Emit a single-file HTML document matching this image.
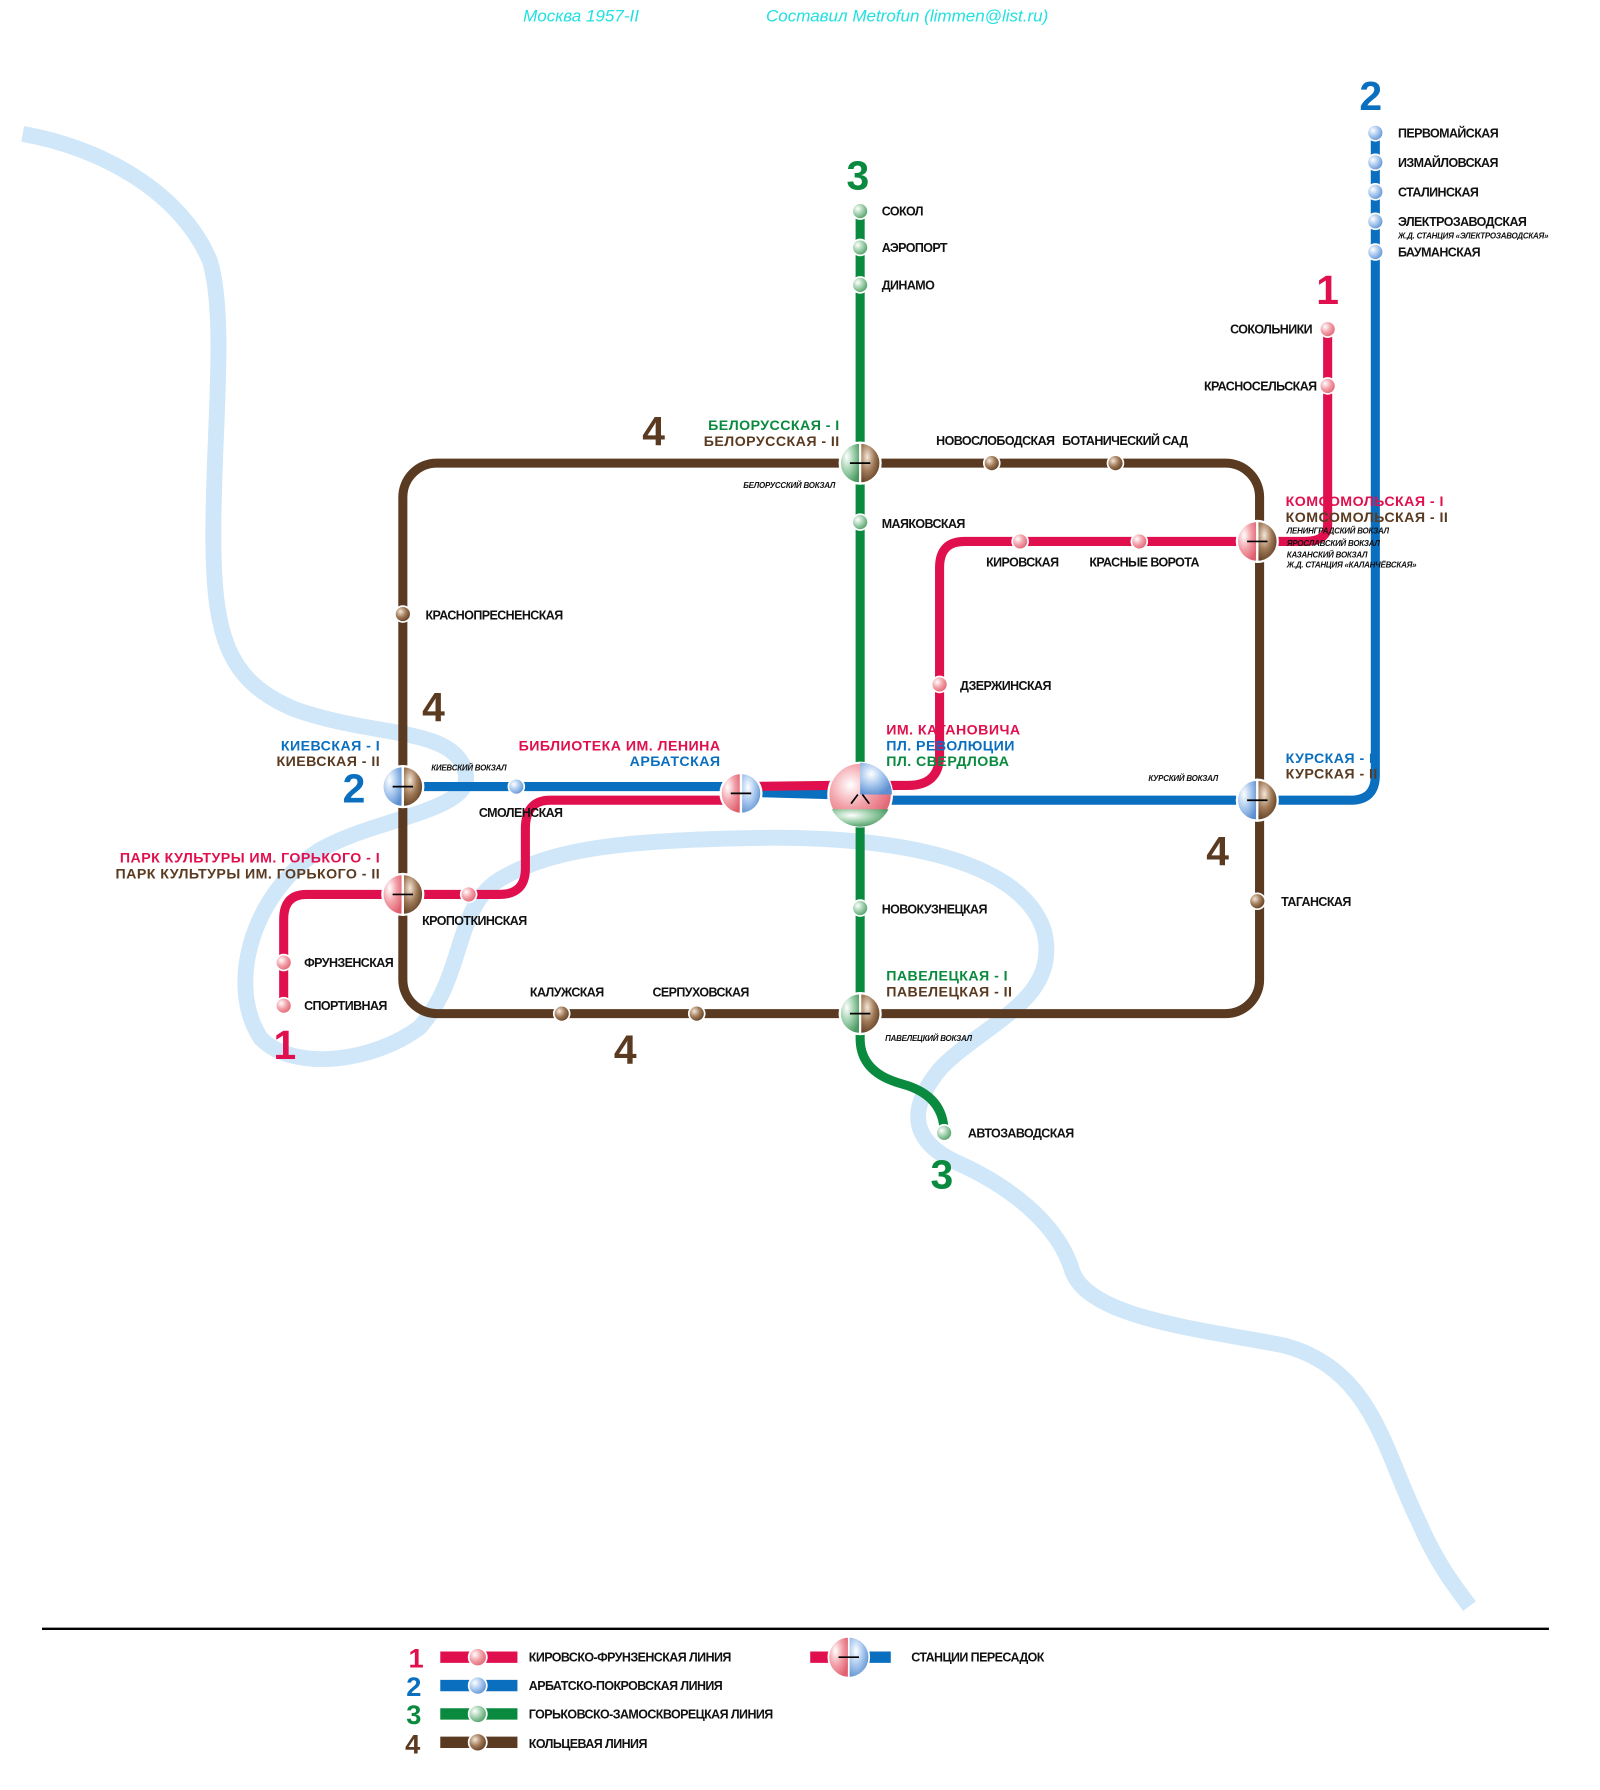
<!DOCTYPE html>
<html><head><meta charset="utf-8"><style>
html,body{margin:0;padding:0;background:#fff}
svg{display:block}
text{font-family:"Liberation Sans",sans-serif}
.s{font-size:11px;font-weight:bold;fill:#111;letter-spacing:-0.5px}
.i{font-size:7px;font-style:italic;font-weight:bold;fill:#111;letter-spacing:-0.2px}
.b{font-size:12.5px;font-weight:900;letter-spacing:0.4px}
.n{font-size:36px;font-weight:900}
</style></head><body>
<svg width="1600" height="1790" viewBox="0 0 1410 1577" preserveAspectRatio="none" xmlns="http://www.w3.org/2000/svg">
<defs>
<radialGradient id="gr" cx="35%" cy="35%" r="70%"><stop offset="0" stop-color="#fff"/><stop offset="0.5" stop-color="#f2a0a8"/><stop offset="1" stop-color="#e0606f"/></radialGradient>
<radialGradient id="gb" cx="35%" cy="35%" r="70%"><stop offset="0" stop-color="#fff"/><stop offset="0.5" stop-color="#a8c8ee"/><stop offset="1" stop-color="#5d8fd0"/></radialGradient>
<radialGradient id="gg" cx="35%" cy="35%" r="70%"><stop offset="0" stop-color="#fff"/><stop offset="0.5" stop-color="#9fd0ac"/><stop offset="1" stop-color="#4a9a62"/></radialGradient>
<radialGradient id="gn" cx="35%" cy="35%" r="70%"><stop offset="0" stop-color="#f4e6d8"/><stop offset="0.5" stop-color="#a07a58"/><stop offset="1" stop-color="#5a3a20"/></radialGradient>
</defs>
<text x="461" y="19" style="font-size:15px;fill:#22e0e0;font-style:italic">Москва 1957-II</text>
<text x="675" y="19" style="font-size:15px;fill:#22e0e0;font-style:italic">Составил Metrofun (limmen@list.ru)</text>

<!-- river -->
<path d="M20 118 C90 130 160 170 185 230 C200 280 188 380 188 470 C188 560 200 600 260 625 C330 650 400 640 410 680 C420 715 330 720 280 750 C220 790 200 870 230 915 C260 945 330 935 370 905 C410 860 400 800 440 775 C490 745 560 740 680 738 C800 738 900 760 920 820 C935 880 870 900 830 940 C800 975 800 1005 845 1025 C900 1050 935 1085 945 1120 C960 1160 1050 1170 1130 1185 C1210 1205 1220 1280 1250 1340 C1265 1375 1280 1395 1295 1415" fill="none" stroke="#cfe7f8" stroke-width="14" stroke-linejoin="round"/>

<!-- ring -->
<rect x="355" y="408" width="755" height="485" rx="30" fill="none" stroke="#5a3a20" stroke-width="8"/>
<!-- green -->
<path d="M758 185 L758 915 Q758 945 795 955 Q832 965 832 998" fill="none" stroke="#0a8a3e" stroke-width="8"/>
<!-- blue -->
<path d="M355 693 L640 693 L660 698 L730 700 M758 705 L1190 705 Q1212 705 1212 683 L1212 117" fill="none" stroke="#0b6fc0" stroke-width="8"/>
<!-- red -->
<path d="M1170 290 L1170 462 Q1170 477 1150 477 L850 477 Q828 477 828 500 L828 665 Q828 692 800 692 L730 692 M653 693 L730 692 M653 705 L485 705 Q463 705 463 730 L463 765 Q463 788 440 788 L270 788 Q250 788 250 810 L250 888" fill="none" stroke="#e0104e" stroke-width="8"/>

<!-- small stations -->
<g stroke="#fff" stroke-width="1.5">
<circle cx="758" cy="186" r="7" fill="url(#gg)"/><circle cx="758" cy="218" r="7" fill="url(#gg)"/><circle cx="758" cy="251" r="7" fill="url(#gg)"/><circle cx="758" cy="460" r="7" fill="url(#gg)"/><circle cx="758" cy="800" r="7" fill="url(#gg)"/><circle cx="832" cy="998" r="7" fill="url(#gg)"/>
<circle cx="1212" cy="117" r="7" fill="url(#gb)"/><circle cx="1212" cy="143" r="7" fill="url(#gb)"/><circle cx="1212" cy="169" r="7" fill="url(#gb)"/><circle cx="1212" cy="195" r="7" fill="url(#gb)"/><circle cx="1212" cy="222" r="7" fill="url(#gb)"/><circle cx="455" cy="693" r="7" fill="url(#gb)"/>
<circle cx="1170" cy="290" r="7" fill="url(#gr)"/><circle cx="1170" cy="340" r="7" fill="url(#gr)"/><circle cx="899" cy="477" r="7" fill="url(#gr)"/><circle cx="1004" cy="477" r="7" fill="url(#gr)"/><circle cx="828" cy="603" r="7" fill="url(#gr)"/><circle cx="413" cy="788" r="7" fill="url(#gr)"/><circle cx="250" cy="848" r="7" fill="url(#gr)"/><circle cx="250" cy="886" r="7" fill="url(#gr)"/>
<circle cx="874" cy="408" r="7" fill="url(#gn)"/><circle cx="983" cy="408" r="7" fill="url(#gn)"/><circle cx="355" cy="541" r="7" fill="url(#gn)"/><circle cx="1108" cy="794" r="7" fill="url(#gn)"/><circle cx="495" cy="893" r="7" fill="url(#gn)"/><circle cx="614" cy="893" r="7" fill="url(#gn)"/>
</g>

<!-- interchanges -->
<g stroke="#fff" stroke-width="2">
<g><path d="M758 390 A18 18 0 0 0 758 426Z" fill="url(#gg)"/><path d="M758 390 A18 18 0 0 1 758 426Z" fill="url(#gn)"/></g>
<g><path d="M1108 459 A18 18 0 0 0 1108 495Z" fill="url(#gr)"/><path d="M1108 459 A18 18 0 0 1 1108 495Z" fill="url(#gn)"/></g>
<g><path d="M1108 687 A18 18 0 0 0 1108 723Z" fill="url(#gb)"/><path d="M1108 687 A18 18 0 0 1 1108 723Z" fill="url(#gn)"/></g>
<g><path d="M355 675 A18 18 0 0 0 355 711Z" fill="url(#gb)"/><path d="M355 675 A18 18 0 0 1 355 711Z" fill="url(#gn)"/></g>
<g><path d="M355 770 A18 18 0 0 0 355 806Z" fill="url(#gr)"/><path d="M355 770 A18 18 0 0 1 355 806Z" fill="url(#gn)"/></g>
<g><path d="M758 875 A18 18 0 0 0 758 911Z" fill="url(#gg)"/><path d="M758 875 A18 18 0 0 1 758 911Z" fill="url(#gn)"/></g>
<g><path d="M653 681 A18 18 0 0 0 653 717Z" fill="url(#gr)"/><path d="M653 681 A18 18 0 0 1 653 717Z" fill="url(#gb)"/></g>
<circle cx="758" cy="700" r="28" fill="url(#gr)"/>
<path d="M758 700 L786 700 A28 28 0 0 0 758 672Z" fill="url(#gb)" stroke="none"/>
<path d="M733 713 A28 28 0 0 0 783 713 Z" fill="url(#gg)" stroke="none"/>
</g>
<g stroke="#000" stroke-width="1.5" fill="none">
<path d="M749 408h18M1099 477h18M1099 705h18M346 693h18M346 788h18M749 893h18M644 699h18"/>
<path d="M750 708l6-8M766 708l-6-8"/>
</g>

<!-- numbers -->
<g class="n">
<text x="1198" y="97" fill="#0b6fc0">2</text><text x="1160" y="268" fill="#e0104e">1</text>
<text x="746" y="167" fill="#0a8a3e">3</text><text x="820" y="1047" fill="#0a8a3e">3</text>
<text x="566" y="392" fill="#5a3a20">4</text><text x="372" y="635" fill="#5a3a20">4</text><text x="1063" y="762" fill="#5a3a20">4</text><text x="541" y="937" fill="#5a3a20">4</text>
<text x="302" y="707" fill="#0b6fc0">2</text><text x="241" y="933" fill="#e0104e">1</text>
</g>

<!-- labels -->
<g class="s">
<text x="1232" y="121">ПЕРВОМАЙСКАЯ</text><text x="1232" y="147">ИЗМАЙЛОВСКАЯ</text><text x="1232" y="173">СТАЛИНСКАЯ</text><text x="1232" y="199">ЭЛЕКТРОЗАВОДСКАЯ</text><text x="1232" y="226">БАУМАНСКАЯ</text>
<text x="1084" y="294">СОКОЛЬНИКИ</text><text x="1061" y="344">КРАСНОСЕЛЬСКАЯ</text>
<text x="777" y="190">СОКОЛ</text><text x="777" y="222">АЭРОПОРТ</text><text x="777" y="255">ДИНАМО</text><text x="777" y="465">МАЯКОВСКАЯ</text>
<text x="825" y="392">НОВОСЛОБОДСКАЯ</text><text x="936" y="392">БОТАНИЧЕСКИЙ САД</text>
<text x="869" y="499">КИРОВСКАЯ</text><text x="960" y="499">КРАСНЫЕ ВОРОТА</text><text x="846" y="608">ДЗЕРЖИНСКАЯ</text>
<text x="375" y="546">КРАСНОПРЕСНЕНСКАЯ</text><text x="422" y="720">СМОЛЕНСКАЯ</text><text x="372" y="815">КРОПОТКИНСКАЯ</text>
<text x="268" y="852">ФРУНЗЕНСКАЯ</text><text x="268" y="890">СПОРТИВНАЯ</text>
<text x="467" y="878">КАЛУЖСКАЯ</text><text x="575" y="878">СЕРПУХОВСКАЯ</text>
<text x="777" y="805">НОВОКУЗНЕЦКАЯ</text><text x="853" y="1002">АВТОЗАВОДСКАЯ</text><text x="1129" y="798">ТАГАНСКАЯ</text>
</g>
<g class="i">
<text x="1232" y="210">Ж.Д. СТАНЦИЯ «ЭЛЕКТРОЗАВОДСКАЯ»</text>
<text x="655" y="430">БЕЛОРУССКИЙ ВОКЗАЛ</text>
<text x="1134" y="470">ЛЕНИНГРАДСКИЙ ВОКЗАЛ</text><text x="1134" y="481">ЯРОСЛАВСКИЙ ВОКЗАЛ</text><text x="1134" y="491">КАЗАНСКИЙ ВОКЗАЛ</text><text x="1134" y="500">Ж.Д. СТАНЦИЯ «КАЛАНЧЁВСКАЯ»</text>
<text x="380" y="679">КИЕВСКИЙ ВОКЗАЛ</text><text x="1012" y="688">КУРСКИЙ ВОКЗАЛ</text><text x="780" y="917">ПАВЕЛЕЦКИЙ ВОКЗАЛ</text>
</g>
<g class="b">
<text x="740" y="379" text-anchor="end" fill="#0a8a3e">БЕЛОРУССКАЯ - I</text><text x="740" y="393" text-anchor="end" fill="#5a3a20">БЕЛОРУССКАЯ - II</text>
<text x="1133" y="446" fill="#e0104e">КОМСОМОЛЬСКАЯ - I</text><text x="1133" y="460" fill="#5a3a20">КОМСОМОЛЬСКАЯ - II</text>
<text x="1133" y="672" fill="#0b6fc0">КУРСКАЯ - I</text><text x="1133" y="686" fill="#5a3a20">КУРСКАЯ - II</text>
<text x="335" y="661" text-anchor="end" fill="#0b6fc0">КИЕВСКАЯ - I</text><text x="335" y="675" text-anchor="end" fill="#5a3a20">КИЕВСКАЯ - II</text>
<text x="635" y="661" text-anchor="end" fill="#e0104e">БИБЛИОТЕКА ИМ. ЛЕНИНА</text><text x="635" y="675" text-anchor="end" fill="#0b6fc0">АРБАТСКАЯ</text>
<text x="781" y="647" fill="#e0104e">ИМ. КАГАНОВИЧА</text><text x="781" y="661" fill="#0b6fc0">ПЛ. РЕВОЛЮЦИИ</text><text x="781" y="675" fill="#0a8a3e">ПЛ. СВЕРДЛОВА</text>
<text x="335" y="760" text-anchor="end" fill="#e0104e">ПАРК КУЛЬТУРЫ ИМ. ГОРЬКОГО - I</text><text x="335" y="774" text-anchor="end" fill="#5a3a20">ПАРК КУЛЬТУРЫ ИМ. ГОРЬКОГО - II</text>
<text x="781" y="864" fill="#0a8a3e">ПАВЕЛЕЦКАЯ - I</text><text x="781" y="878" fill="#5a3a20">ПАВЕЛЕЦКАЯ - II</text>
</g>

<!-- legend -->
<line x1="37" y1="1435" x2="1365" y2="1435" stroke="#000" stroke-width="2"/>
<g class="n" style="font-size:24px">
<text x="360" y="1469" fill="#e0104e">1</text><text x="358" y="1494" fill="#0b6fc0">2</text><text x="358" y="1519" fill="#0a8a3e">3</text><text x="357" y="1545" fill="#5a3a20">4</text>
</g>
<g stroke-width="10">
<line x1="388" y1="1460" x2="456" y2="1460" stroke="#e0104e"/><line x1="388" y1="1485" x2="456" y2="1485" stroke="#0b6fc0"/><line x1="388" y1="1510" x2="456" y2="1510" stroke="#0a8a3e"/><line x1="388" y1="1535" x2="456" y2="1535" stroke="#5a3a20"/>
<line x1="714" y1="1460" x2="748" y2="1460" stroke="#e0104e"/><line x1="748" y1="1460" x2="785" y2="1460" stroke="#0b6fc0"/>
</g>
<g stroke="#fff" stroke-width="1.5">
<circle cx="421" cy="1460" r="8" fill="url(#gr)"/><circle cx="421" cy="1485" r="8" fill="url(#gb)"/><circle cx="421" cy="1510" r="8" fill="url(#gg)"/><circle cx="421" cy="1535" r="8" fill="url(#gn)"/>
<path d="M748 1442 A18 18 0 0 0 748 1478Z" fill="url(#gr)"/><path d="M748 1442 A18 18 0 0 1 748 1478Z" fill="url(#gb)"/>
</g>
<path d="M739 1460h18" stroke="#000" stroke-width="1.5"/>
<g class="s">
<text x="466" y="1464">КИРОВСКО-ФРУНЗЕНСКАЯ ЛИНИЯ</text><text x="466" y="1489">АРБАТСКО-ПОКРОВСКАЯ ЛИНИЯ</text><text x="466" y="1514">ГОРЬКОВСКО-ЗАМОСКВОРЕЦКАЯ ЛИНИЯ</text><text x="466" y="1540">КОЛЬЦЕВАЯ ЛИНИЯ</text><text x="803" y="1464">СТАНЦИИ ПЕРЕСАДОК</text>
</g>
</svg>
</body></html>
